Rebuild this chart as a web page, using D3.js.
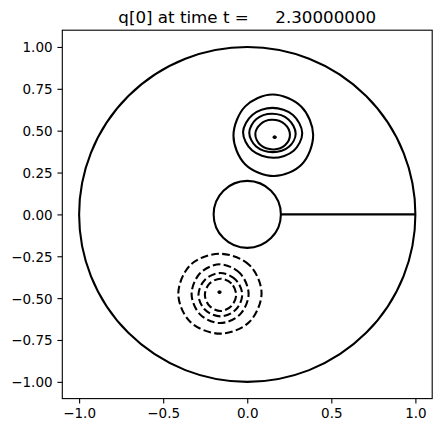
<!DOCTYPE html>
<html><head><meta charset="utf-8">
<script src="https://cdn.jsdelivr.net/npm/d3@7"></script>
<style>body{margin:0;background:#fff;} svg{display:block;font-family:"DejaVu Sans",sans-serif;}</style>
</head><body>
<div id="chart"></div>
<script>
// ---- data ----
const titleText = "q[0] at time t =     2.30000000";
const xTicks = [-1.0, -0.5, 0.0, 0.5, 1.0];
const xTickLabels = ["\u22121.0", "\u22120.5", "0.0", "0.5", "1.0"];
const yTicks = [-1.0, -0.75, -0.5, -0.25, 0.0, 0.25, 0.5, 0.75, 1.0];
const yTickLabels = ["\u22121.00", "\u22120.75", "\u22120.50", "\u22120.25", "0.00", "0.25", "0.50", "0.75", "1.00"];
const boundaryRadii = [1.0, 0.2];
const slit = [[0.2, 0.0], [1.0, 0.0]];
// positive contours (solid), outer to inner
const positiveContours = [
  [[0.392,0.475],[0.322,0.643],[0.150,0.716],[-0.012,0.645],[-0.082,0.470],[-0.013,0.300],[0.160,0.229],[0.325,0.300]],
  [[0.327,0.485],[0.272,0.594],[0.150,0.636],[0.030,0.594],[-0.025,0.490],[0.028,0.383],[0.155,0.338],[0.276,0.380]],
  [[0.288,0.482],[0.245,0.567],[0.148,0.601],[0.053,0.568],[0.012,0.488],[0.053,0.405],[0.152,0.372],[0.248,0.404]],
  [[0.254,0.475],[0.222,0.540],[0.145,0.565],[0.080,0.540],[0.048,0.480],[0.079,0.414],[0.158,0.388],[0.226,0.414]],
  [[0.170,0.461],[0.163,0.466],[0.156,0.461],[0.163,0.456]]
];
// negative contours (dashed), outer to inner
const negativeContours = [
  [[0.085,-0.470],[0.012,-0.302],[-0.165,-0.235],[-0.338,-0.302],[-0.410,-0.475],[-0.338,-0.643],[-0.160,-0.712],[0.012,-0.643]],
  [[0.008,-0.475],[-0.043,-0.352],[-0.162,-0.298],[-0.281,-0.352],[-0.331,-0.475],[-0.281,-0.597],[-0.162,-0.649],[-0.043,-0.597]],
  [[-0.030,-0.480],[-0.069,-0.390],[-0.160,-0.350],[-0.251,-0.390],[-0.290,-0.480],[-0.251,-0.570],[-0.160,-0.609],[-0.069,-0.570]],
  [[-0.066,-0.480],[-0.094,-0.413],[-0.159,-0.384],[-0.224,-0.413],[-0.252,-0.480],[-0.224,-0.547],[-0.159,-0.577],[-0.094,-0.547]],
  [[-0.158,-0.464],[-0.165,-0.459],[-0.172,-0.464],[-0.165,-0.469]]
];

// ---- layout ----
const W = 441, H = 433;
const L = 62.3, R = 432.2, T = 30.2, B = 398.6;
const x = d3.scaleLinear().domain([-1.1, 1.1]).range([L, R]);
const y = d3.scaleLinear().domain([-1.1, 1.1]).range([B, T]);

const svg = d3.select("#chart").append("svg").attr("width", W).attr("height", H);

const plot = svg.append("g");
const clipId = "clip";
svg.append("defs").append("clipPath").attr("id", clipId)
  .append("rect").attr("x", L).attr("y", T).attr("width", R - L).attr("height", B - T);
plot.attr("clip-path", `url(#${clipId})`);

const line = d3.line().x(d => x(d[0])).y(d => y(d[1])).curve(d3.curveCatmullRomClosed.alpha(0.5));

// boundary circles
plot.selectAll("ellipse.bd").data(boundaryRadii).enter().append("ellipse")
  .attr("cx", x(0)).attr("cy", y(0))
  .attr("rx", d => x(d) - x(0)).attr("ry", d => y(0) - y(d))
  .attr("fill", "none").attr("stroke", "#000").attr("stroke-width", 2.08);
plot.append("path")
  .attr("d", d3.line().x(d => x(d[0])).y(d => y(d[1]))(slit))
  .attr("fill", "none").attr("stroke", "#000").attr("stroke-width", 2.08);

plot.selectAll("path.pos").data(positiveContours).enter().append("path")
  .attr("d", line).attr("fill", "none").attr("stroke", "#000").attr("stroke-width", 2.08);
plot.selectAll("path.neg").data(negativeContours).enter().append("path")
  .attr("d", line).attr("fill", "none").attr("stroke", "#000").attr("stroke-width", 2.08)
  .attr("stroke-dasharray", "7.7,3.3");

// axes
const tickLen = 4.86, fs = 13.5;
const xAxis = svg.append("g").attr("transform", `translate(0,${B})`)
  .call(d3.axisBottom(x).tickValues(xTicks).tickSize(tickLen).tickPadding(4.86)
    .tickFormat((d, i) => xTickLabels[i]));
const yAxis = svg.append("g").attr("transform", `translate(${L},0)`)
  .call(d3.axisLeft(y).tickValues(yTicks).tickSize(tickLen).tickPadding(4.86)
    .tickFormat((d, i) => yTickLabels[i]));
[xAxis, yAxis].forEach(a => {
  a.select(".domain").remove();
  a.selectAll(".tick line").attr("stroke", "#000").attr("stroke-width", 1.1);
  a.selectAll(".tick text").attr("fill", "#000").attr("font-size", fs)
    .attr("font-family", "DejaVu Sans, sans-serif");
});
xAxis.selectAll(".tick text").attr("dy", null).attr("y", 0)
  .attr("transform", `translate(0,${tickLen + 4.86 + 10.1})`);
yAxis.selectAll(".tick text").attr("dy", null).attr("y", 0)
  .attr("transform", "translate(0,4.9)");

// frame
svg.append("rect").attr("x", L).attr("y", T).attr("width", R - L).attr("height", B - T)
  .attr("fill", "none").attr("stroke", "#000").attr("stroke-width", 1.1);

// title
svg.append("text").attr("x", (L + R) / 2).attr("y", 22.5)
  .attr("text-anchor", "middle").attr("font-size", 16.7).attr("fill", "#000")
  .style("white-space", "pre").attr("xml:space", "preserve")
  .text(titleText);
</script>
</body></html>
